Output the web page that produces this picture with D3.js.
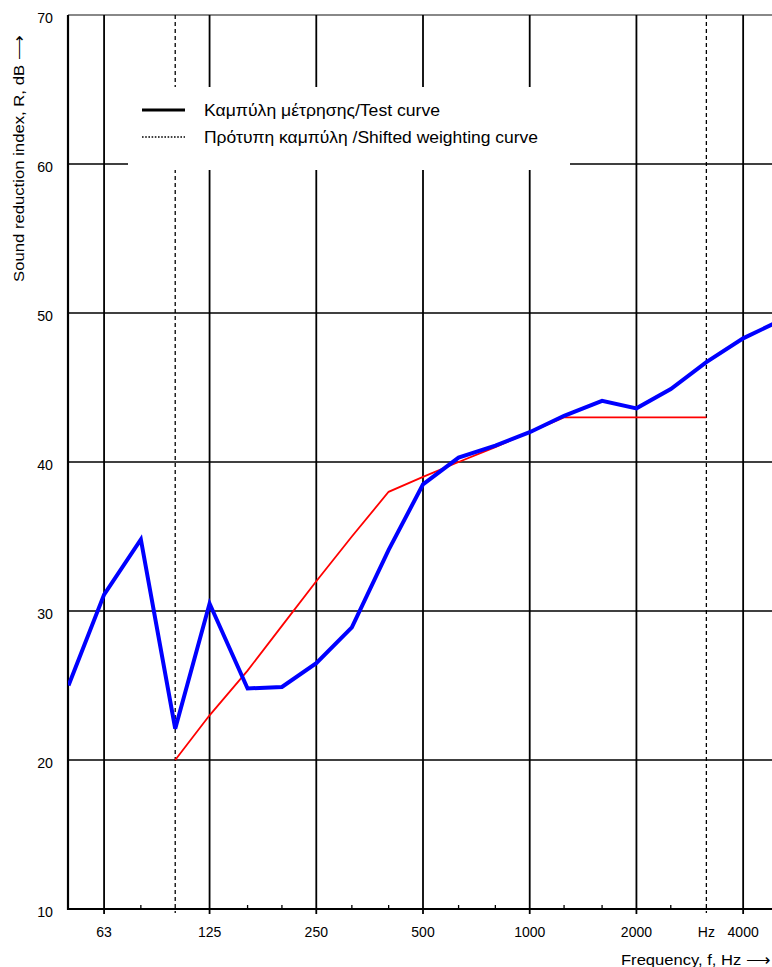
<!DOCTYPE html>
<html>
<head>
<meta charset="utf-8">
<script src="https://cdn.jsdelivr.net/npm/d3@7"></script>
<style>
  html, body { margin: 0; padding: 0; background: #fff; }
  svg { display: block; }
  text { font-family: "Liberation Sans", Arial, sans-serif; fill: #000; }
</style>
</head>
<body>
<svg id="chart" width="772" height="967"></svg>
<script>
// ---- data ----
const bands = [50, 63, 80, 100, 125, 160, 200, 250, 315, 400, 500, 630, 800, 1000, 1250, 1600, 2000, 2500, 3150, 4000, 5000];
const testCurve = [25.0, 31.1, 34.8, 22.1, 30.5, 24.8, 24.9, 26.5, 28.9, 34.1, 38.5, 40.3, 41.1, 42.0, 43.1, 44.1, 43.6, 44.9, 46.7, 48.3, 49.4];
const refBands = [100, 125, 160, 200, 250, 315, 400, 500, 630, 800, 1000, 1250, 1600, 2000, 2500, 3150];
const refCurve = [20, 23, 26, 29, 32, 35, 38, 39, 40, 41, 42, 43, 43, 43, 43, 43];
const majorFreqs = [63, 125, 250, 500, 1000, 2000, 4000];
const dashedFreqs = [100, 3150];
const xTickLabels = [
  {f: 63, label: "63"}, {f: 125, label: "125"}, {f: 250, label: "250"},
  {f: 500, label: "500"}, {f: 1000, label: "1000"}, {f: 2000, label: "2000"},
  {f: 3150, label: "Hz"}, {f: 4000, label: "4000"}
];
const yTicks = [10, 20, 30, 40, 50, 60, 70];
const legendItems = ["Καμπύλη μέτρησης/Test curve", "Πρότυπη καμπύλη /Shifted weighting curve"];
const yTitle = "Sound reduction index,  R, dB ⟶";
const xTitle = "Frequency, f, Hz ⟶";

// ---- scales ----
const svg = d3.select("#chart");
const x = d3.scaleLog().domain([50, 5000]).range([68.5, 777.5]);
const y = d3.scaleLinear().domain([10, 70]).range([909, 15]);
const left = 68, right = 772;

// horizontal grid
svg.append("g").selectAll("line").data(yTicks.filter(v => v > 10 && v < 70)).join("line")
  .attr("x1", left).attr("x2", right)
  .attr("y1", d => y(d)).attr("y2", d => y(d))
  .attr("stroke", "#000").attr("stroke-width", 1.6);

// top border
svg.append("line").attr("x1", left).attr("x2", right).attr("y1", y(70)).attr("y2", y(70))
  .attr("stroke", "#888").attr("stroke-width", 2);

// vertical grid
svg.append("g").selectAll("line").data(majorFreqs).join("line")
  .attr("x1", d => x(d)).attr("x2", d => x(d))
  .attr("y1", y(70)).attr("y2", y(10) + 5)
  .attr("stroke", "#000").attr("stroke-width", 1.8);
svg.append("g").selectAll("line").data(dashedFreqs).join("line")
  .attr("x1", d => x(d)).attr("x2", d => x(d))
  .attr("y1", y(70)).attr("y2", y(10) + 4)
  .attr("stroke", "#000").attr("stroke-width", 1.3).attr("stroke-dasharray", "4,3");

// minor ticks on bottom axis
const minor = bands.filter(f => !majorFreqs.includes(f) && !dashedFreqs.includes(f) && f > 50 && f < 5000);
svg.append("g").selectAll("line").data(minor).join("line")
  .attr("x1", d => x(d)).attr("x2", d => x(d))
  .attr("y1", y(10) - 4).attr("y2", y(10))
  .attr("stroke", "#000").attr("stroke-width", 1.3);

// legend box (white, covers grid)
const lg = svg.append("g");
lg.append("rect").attr("x", 128).attr("y", 87).attr("width", 442).attr("height", 83).attr("fill", "#fff");
lg.append("line").attr("x1", 142).attr("x2", 185).attr("y1", 110).attr("y2", 110)
  .attr("stroke", "#000").attr("stroke-width", 3);
lg.append("line").attr("x1", 142).attr("x2", 185).attr("y1", 137).attr("y2", 137)
  .attr("stroke", "#000").attr("stroke-width", 1.6).attr("stroke-dasharray", "1.6,1.6");
const legendWidths = [236, 334];
lg.selectAll("text").data(legendItems).join("text")
  .attr("x", 204).attr("y", (d, i) => 116 + i * 27)
  .attr("font-size", 17).attr("textLength", (d, i) => legendWidths[i])
  .attr("lengthAdjust", "spacingAndGlyphs").text(d => d);

// axes lines
svg.append("line").attr("x1", left).attr("x2", left).attr("y1", y(70)).attr("y2", y(10) + 1)
  .attr("stroke", "#000").attr("stroke-width", 2.2);
svg.append("line").attr("x1", left - 1).attr("x2", right).attr("y1", y(10)).attr("y2", y(10))
  .attr("stroke", "#000").attr("stroke-width", 2.2);

// y axis labels via d3 axis
const yAxis = d3.axisLeft(y).tickValues(yTicks).tickSize(0).tickPadding(15).tickFormat(d3.format("d"));
const gy = svg.append("g").attr("transform", `translate(${left},0)`).call(yAxis);
gy.select(".domain").remove();
gy.selectAll("text").attr("font-size", 14.2).attr("font-family", '"Liberation Sans", Arial, sans-serif')
  .attr("dy", "0.55em").attr("fill", "#000");

// x axis labels
svg.append("g").selectAll("text").data(xTickLabels).join("text")
  .attr("x", d => x(d.f)).attr("y", 937).attr("text-anchor", "middle")
  .attr("font-size", 14).text(d => d.label);

// titles
svg.append("text").attr("transform", "translate(24,282) rotate(-90)")
  .attr("text-anchor", "start").attr("font-size", 14.5)
  .attr("textLength", 247).attr("lengthAdjust", "spacingAndGlyphs").text(yTitle);
svg.append("text").attr("x", 621).attr("y", 965).attr("text-anchor", "start")
  .attr("font-size", 14.5).attr("textLength", 150).attr("lengthAdjust", "spacingAndGlyphs").text(xTitle);

// data lines
svg.append("clipPath").attr("id", "plotclip").append("rect")
  .attr("x", left).attr("y", 0).attr("width", right - left).attr("height", 967);
const line = d3.line().x(d => x(d[0])).y(d => y(d[1]));
svg.append("path").datum(refBands.map((f, i) => [f, refCurve[i]]))
  .attr("d", line).attr("fill", "none").attr("stroke", "#ff0000").attr("stroke-width", 1.8);
svg.append("path").datum(bands.map((f, i) => [f, testCurve[i]]))
  .attr("clip-path", "url(#plotclip)")
  .attr("d", line).attr("fill", "none").attr("stroke", "#0000ff").attr("stroke-width", 4)
  .attr("stroke-linejoin", "miter");
</script>
</body>
</html>
